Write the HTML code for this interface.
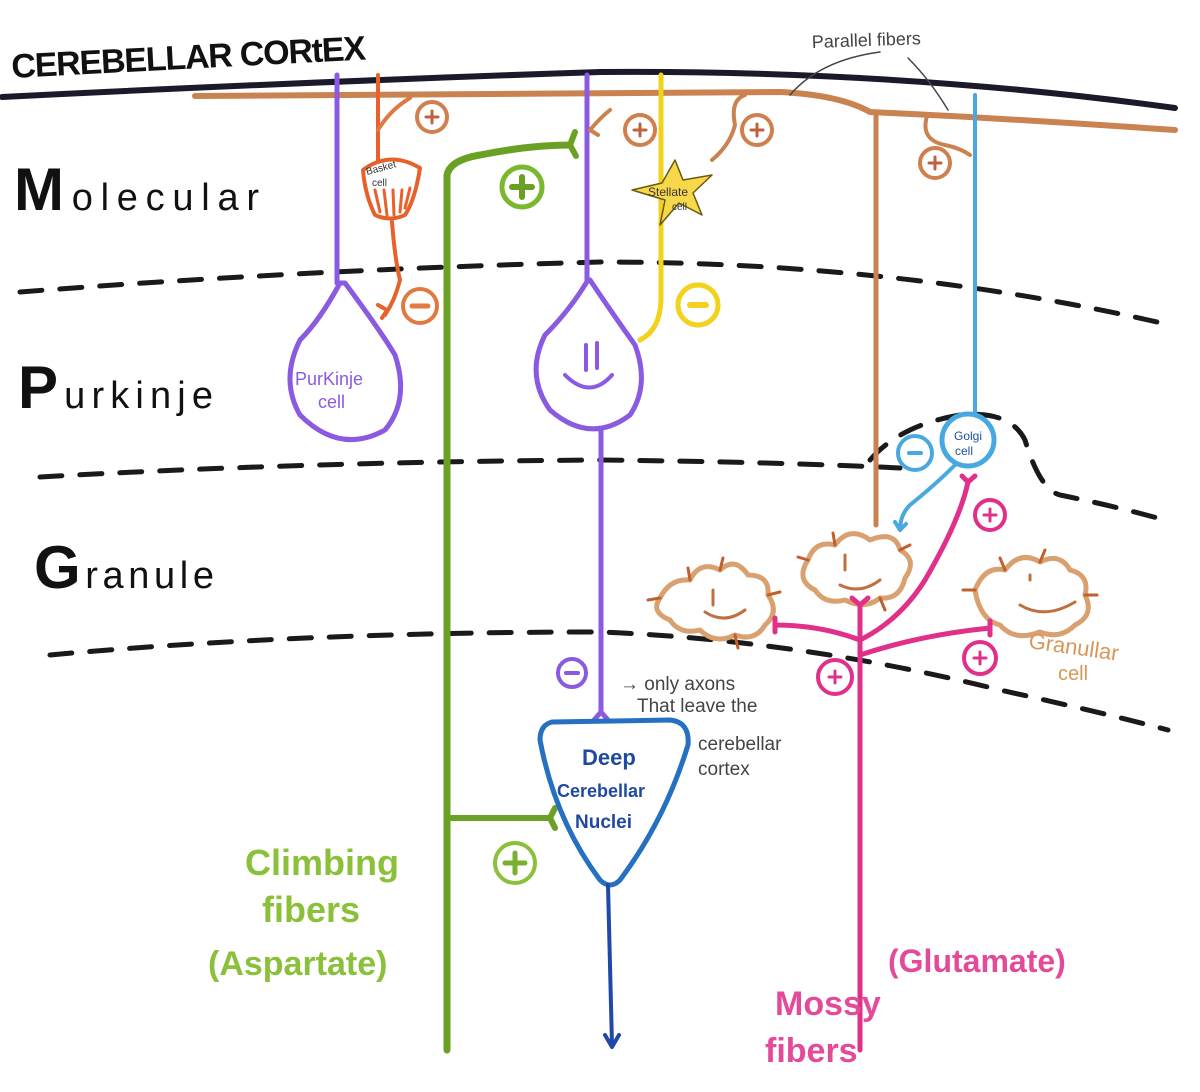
<!DOCTYPE html>
<html><head><meta charset="utf-8"><style>
html,body{margin:0;padding:0;background:#fff;}
svg{display:block;}
text{font-family:"Liberation Sans",sans-serif;}
</style></head><body>
<svg width="1200" height="1092" viewBox="0 0 1200 1092" xmlns="http://www.w3.org/2000/svg" fill="none" stroke-linecap="round" stroke-linejoin="round">
<text x="12" y="78" font-size="34" font-weight="bold" fill="#111" transform="rotate(-3 12 78)" textLength="355">CEREBELLAR CORtEX</text>
<path d="M2 97 Q300 82 600 72 Q900 70 1175 108" stroke="#1a1a2a" stroke-width="6"/>
<path d="M195 96 L780 92 Q840 95 870 112 Q1000 118 1175 130" stroke="#c98250" stroke-width="6"/>
<text x="812" y="48" font-size="18" fill="#444" transform="rotate(-2 812 48)">Parallel fibers</text>
<path d="M790 95 Q820 60 880 52" stroke="#444" stroke-width="1.5"/>
<path d="M948 110 Q930 80 908 58" stroke="#444" stroke-width="1.5"/>
<text x="14" y="210" font-size="60" font-weight="bold" fill="#111" textLength="245">M<tspan font-size="38" font-weight="normal">olecular</tspan></text>
<text x="18" y="408" font-size="60" font-weight="bold" fill="#111" textLength="195">P<tspan font-size="38" font-weight="normal">urkinje</tspan></text>
<text x="34" y="588" font-size="60" font-weight="bold" fill="#111" textLength="180">G<tspan font-size="38" font-weight="normal">ranule</tspan></text>
<g stroke="#1a1a1a" stroke-width="5" stroke-dasharray="22 18">
<path d="M20 292 Q300 270 600 262 Q900 262 1170 325"/>
<path d="M40 477 Q300 462 600 460 Q780 462 900 468"/>
<path d="M870 460 Q900 425 960 415 Q1010 410 1025 440 Q1040 490 1060 495 Q1110 505 1165 520"/>
<path d="M50 655 Q300 632 600 632 Q800 640 1000 690 Q1100 712 1168 730"/>
</g>
<path d="M337 75 L337 283" stroke="#8a5ae0" stroke-width="5"/>
<path d="M340 283 Q320 320 300 340 Q280 380 300 415 Q340 455 385 430 Q410 400 395 355 Q380 330 345 283 Z" stroke="#8a5ae0" stroke-width="5"/>
<text x="295" y="385" font-size="18" fill="#8a5ae0">PurKinje</text>
<text x="318" y="408" font-size="18" fill="#8a5ae0">cell</text>
<path d="M378 75 L378 160" stroke="#e8602a" stroke-width="4"/>
<path d="M378 130 Q390 110 410 98" stroke="#e07a40" stroke-width="4"/>
<path d="M363 170 Q390 150 420 168 Q415 200 405 215 Q390 222 375 215 Q365 195 363 170 Z" stroke="#e8602a" stroke-width="4"/>
<g stroke="#e8602a" stroke-width="3"><path d="M375 190 L380 212"/><path d="M384 190 L387 215"/><path d="M393 190 L394 215"/><path d="M402 190 L400 212"/><path d="M410 188 L405 208"/></g>
<text x="367" y="175" font-size="10" fill="#333" transform="rotate(-15 367 175)">Basket</text>
<text x="372" y="186" font-size="10" fill="#333">cell</text>
<path d="M392 222 Q395 260 400 280 Q395 300 385 315" stroke="#e8602a" stroke-width="4"/>
<path d="M378 305 L387 310 L382 318" stroke="#e8602a" stroke-width="4"/>
<circle cx="420" cy="306" r="17" stroke="#e07a40" stroke-width="4"/><path d="M412 306 H428" stroke="#e07a40" stroke-width="5"/>
<circle cx="432" cy="117" r="15" stroke="#d08050" stroke-width="4"/><path d="M426 117 H438 M432 111 V123" stroke="#c06040" stroke-width="3"/>
<path d="M447 1050 L447 175 Q450 160 480 155 Q530 145 570 145" stroke="#6aa025" stroke-width="7"/>
<path d="M570 145 L575 132 M570 145 L576 156" stroke="#6aa025" stroke-width="6"/>
<circle cx="522" cy="187" r="20" stroke="#7ab830" stroke-width="5"/><path d="M512 187 H532 M522 177 V197" stroke="#6aa025" stroke-width="6"/>
<path d="M447 818 L550 818 M550 818 L555 808 M550 818 L555 828" stroke="#6aa025" stroke-width="6"/>
<circle cx="515" cy="863" r="20" stroke="#8ac03a" stroke-width="4"/><path d="M505 863 H525 M515 853 V873" stroke="#7ab030" stroke-width="5"/>
<text x="245" y="875" font-size="36" fill="#8ac03a" font-weight="bold">Climbing</text>
<text x="262" y="922" font-size="36" fill="#8ac03a" font-weight="bold">fibers</text>
<text x="208" y="975" font-size="34" fill="#8ac03a" font-weight="bold">(Aspartate)</text>
<path d="M587 75 L587 280" stroke="#8a5ae0" stroke-width="5"/>
<path d="M588 280 Q570 310 545 335 Q525 375 550 410 Q590 445 630 415 Q650 385 635 345 Q610 310 590 280 Z" stroke="#8a5ae0" stroke-width="5"/>
<path d="M586 345 V370 M597 343 V368" stroke="#8a5ae0" stroke-width="4"/>
<path d="M565 375 Q590 400 612 375" stroke="#8a5ae0" stroke-width="4"/>
<path d="M601 430 L601 712 M601 712 L594 720 M601 712 L608 720" stroke="#8a5ae0" stroke-width="5"/>
<circle cx="572" cy="673" r="14" stroke="#8a5ae0" stroke-width="4"/><path d="M566 673 H578" stroke="#8a5ae0" stroke-width="4"/>
<path d="M590 130 Q600 118 610 110 M590 130 L598 135" stroke="#c98250" stroke-width="4"/>
<circle cx="640" cy="130" r="15" stroke="#d08050" stroke-width="4"/><path d="M634 130 H646 M640 124 V136" stroke="#c06040" stroke-width="3"/>
<path d="M661 75 L661 300 Q660 330 640 340" stroke="#f2d21c" stroke-width="5"/>
<path d="M675 160 L683 180 L712 175 L693 193 L702 215 L679 203 L660 225 L665 200 L632 190 L662 183 Z" fill="#f6d84a" stroke="#6a5a10" stroke-width="1.5"/>
<text x="648" y="196" font-size="12" fill="#333">Stellate</text><text x="672" y="210" font-size="10" fill="#333">cell</text>
<circle cx="698" cy="305" r="20" stroke="#f2d21c" stroke-width="5"/><path d="M690 305 H706" stroke="#f2d21c" stroke-width="6"/>
<path d="M745 95 Q730 100 735 125 Q730 145 712 160" stroke="#c98250" stroke-width="4"/>
<circle cx="757" cy="130" r="15" stroke="#d08050" stroke-width="4"/><path d="M751 130 H763 M757 124 V136" stroke="#c06040" stroke-width="3"/>
<path d="M927 116 Q920 140 945 145 Q960 148 970 155" stroke="#c98250" stroke-width="4"/>
<circle cx="935" cy="163" r="15" stroke="#d08050" stroke-width="4"/><path d="M929 163 H941 M935 157 V169" stroke="#c06040" stroke-width="3"/>
<path d="M876 115 L876 525" stroke="#c98250" stroke-width="5"/>
<path d="M975 95 L975 412" stroke="#4aa8e0" stroke-width="4"/>
<circle cx="968" cy="440" r="26" stroke="#4aa8e0" stroke-width="5"/>
<text x="954" y="440" font-size="12" fill="#2050a0">Golgi</text><text x="955" y="455" font-size="12" fill="#2050a0">cell</text>
<circle cx="915" cy="453" r="17" stroke="#4aa8e0" stroke-width="4"/><path d="M909 453 H921" stroke="#4aa8e0" stroke-width="4"/>
<path d="M955 465 Q935 485 910 505 Q900 515 900 530 M900 530 L895 522 M900 530 L906 524" stroke="#4aa8e0" stroke-width="4"/>
<g stroke="#d9a070" stroke-width="5">
<path d="M660 598 Q670 578 690 580 Q700 560 720 570 Q735 556 748 575 Q770 575 768 595 Q780 612 765 625 Q755 642 735 635 Q715 645 700 630 Q680 635 670 620 Q650 612 660 598 Z"/>
<path d="M808 560 Q815 540 835 545 Q850 525 870 540 Q895 530 900 550 Q918 560 905 578 Q900 600 880 598 Q865 610 845 600 Q825 605 815 590 Q795 580 808 560 Z"/>
<path d="M975 590 Q985 565 1005 570 Q1020 550 1040 562 Q1060 552 1070 570 Q1090 575 1085 595 Q1095 615 1075 625 Q1060 640 1040 632 Q1015 642 1000 625 Q980 620 975 590 Z"/>
</g>
<g stroke="#c0602a" stroke-width="3">
<path d="M660 598 L648 600 M690 580 L688 568 M720 570 L723 558 M768 595 L780 592 M735 635 L738 648 M808 560 L798 557 M835 545 L833 533 M900 550 L910 545 M880 598 L885 610 M1005 570 L1000 558 M1040 562 L1045 550 M1085 595 L1097 595 M975 590 L963 590"/>
</g>
<g stroke="#c07040" stroke-width="3"><path d="M713 590 V605 M845 555 V570 M1030 575 V580"/></g>
<g stroke="#c07040" stroke-width="3"><path d="M705 612 Q725 625 745 610 M840 585 Q860 595 880 580 M1020 605 Q1045 620 1075 602"/></g>
<text x="1028" y="648" font-size="22" fill="#d9955a" transform="rotate(8 1028 648)">Granullar</text>
<text x="1058" y="680" font-size="20" fill="#d9955a">cell</text>
<g stroke="#e0308a" stroke-width="5">
<path d="M860 1050 L860 605 M860 605 L852 598 M860 605 L868 598"/>
<path d="M860 640 Q820 625 775 625 M775 618 V632"/>
<path d="M860 655 Q920 635 990 628 M990 621 V635"/>
<path d="M860 640 Q900 620 925 580 Q960 520 968 482 M962 476 L968 482 L975 476"/>
</g>
<circle cx="990" cy="515" r="15" stroke="#e0308a" stroke-width="4"/><path d="M984 515 H996 M990 509 V521" stroke="#e0308a" stroke-width="3"/>
<circle cx="835" cy="677" r="17" stroke="#e0308a" stroke-width="4"/><path d="M829 677 H841 M835 671 V683" stroke="#e0308a" stroke-width="3"/>
<circle cx="980" cy="658" r="16" stroke="#e0308a" stroke-width="4"/><path d="M974 658 H986 M980 652 V664" stroke="#e0308a" stroke-width="3"/>
<text x="888" y="972" font-size="32" font-weight="bold" fill="#e44a9a">(Glutamate)</text>
<text x="775" y="1015" font-size="34" font-weight="bold" fill="#e44a9a">Mossy</text>
<text x="765" y="1062" font-size="34" font-weight="bold" fill="#e44a9a">fibers</text>
<path d="M552 722 Q540 725 540 740 Q555 820 600 880 Q610 890 620 880 Q665 820 688 745 Q690 722 670 720 Z" stroke="#2570c0" stroke-width="5"/>
<text x="582" y="765" font-size="22" font-weight="bold" fill="#1f4aa0">Deep</text>
<text x="557" y="797" font-size="18" font-weight="bold" fill="#1f4aa0">Cerebellar</text>
<text x="575" y="828" font-size="19" font-weight="bold" fill="#1f4aa0">Nuclei</text>
<path d="M608 885 L612 1045 M605 1035 L612 1047 L619 1035" stroke="#2048a8" stroke-width="4"/>
<g fill="#444" font-size="19">
<text x="620" y="690">→ only axons</text>
<text x="637" y="712">That leave the</text>
<text x="698" y="750">cerebellar</text>
<text x="698" y="775">cortex</text>
</g>
</svg>
</body></html>
